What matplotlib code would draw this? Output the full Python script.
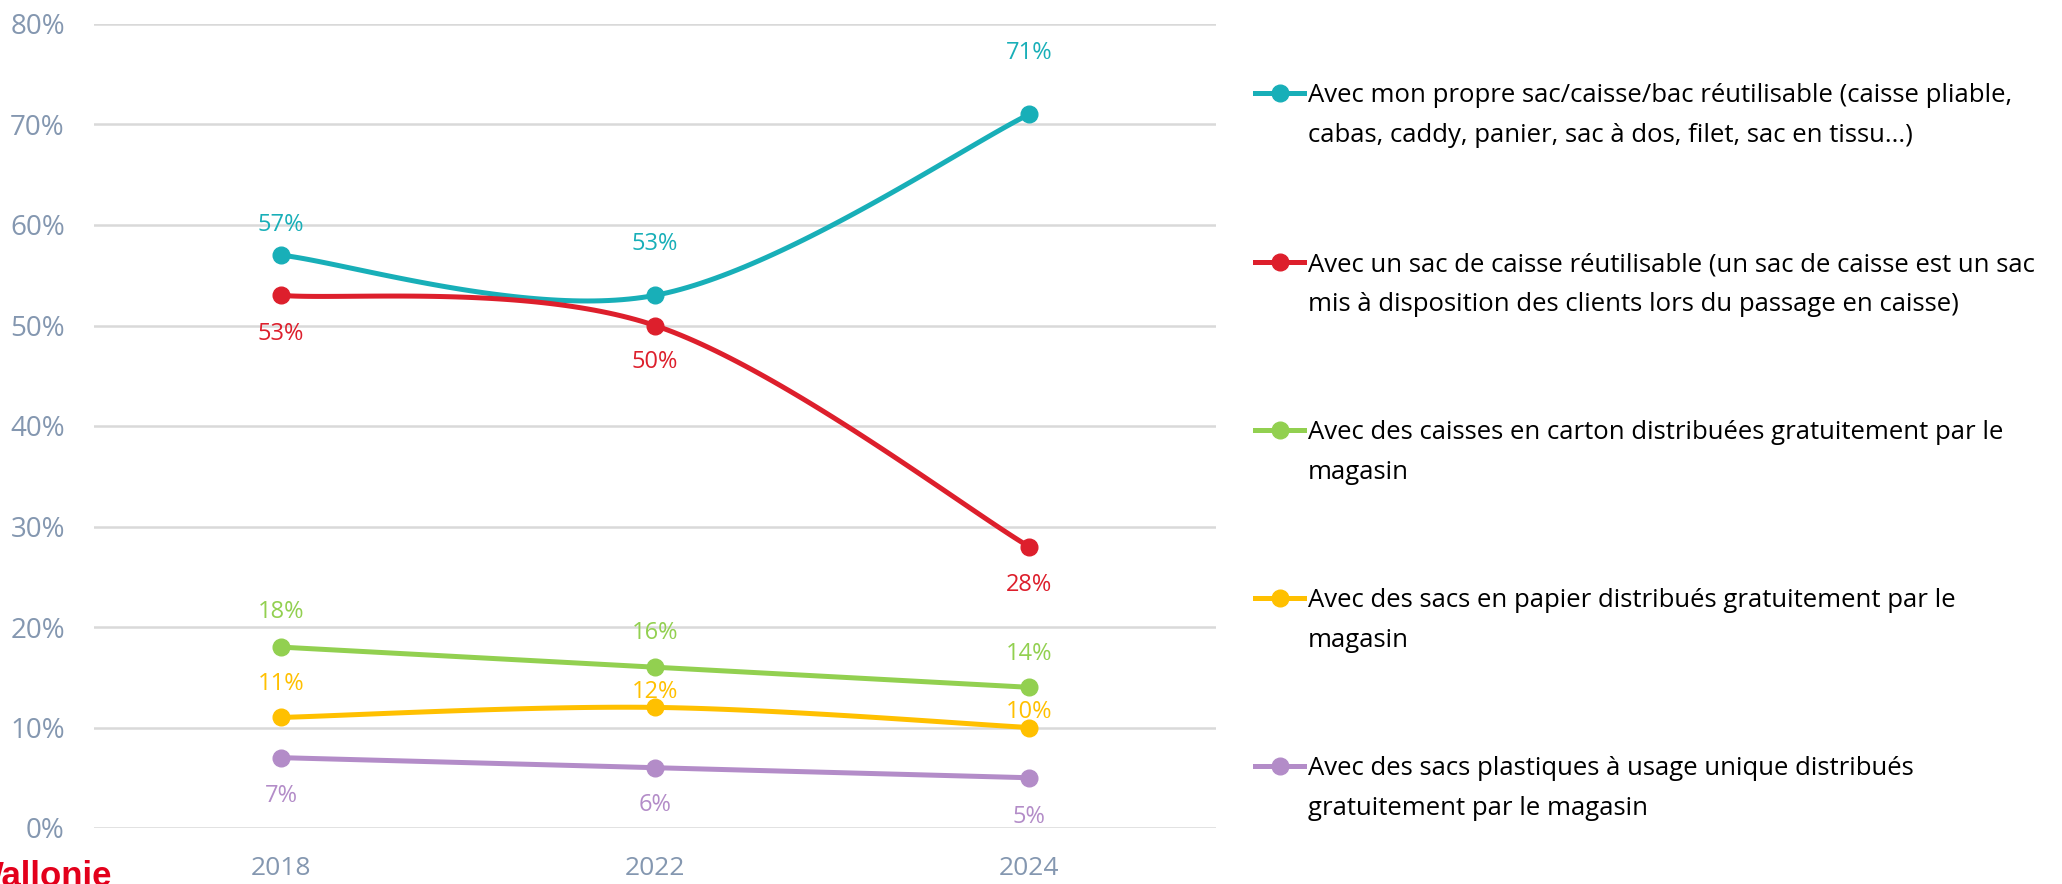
import numpy as np
import matplotlib
matplotlib.use("Agg")
import matplotlib.pyplot as plt
from matplotlib.lines import Line2D

plt.rcParams['font.family'] = ['Open Sans', 'DejaVu Sans']

years = ['2018', '2022', '2024']
series_names = [
    ["Avec mon propre sac/caisse/bac réutilisable (caisse pliable,",
     "cabas, caddy, panier, sac à dos, filet, sac en tissu...)"],
    ["Avec un sac de caisse réutilisable (un sac de caisse est un sac",
     "mis à disposition des clients lors du passage en caisse)"],
    ["Avec des caisses en carton distribuées gratuitement par le",
     "magasin"],
    ["Avec des sacs en papier distribués gratuitement par le",
     "magasin"],
    ["Avec des sacs plastiques à usage unique distribués",
     "gratuitement par le magasin"],
]
reusable_own = [57, 53, 71]
reusable_checkout = [53, 50, 28]
cardboard = [18, 16, 14]
paper = [11, 12, 10]
plastic = [7, 6, 5]
values = [reusable_own, reusable_checkout, cardboard, paper, plastic]
colors = ['#18AFB8', '#DD1F2C', '#92D050', '#FFC000', '#B38CC8']
# label offsets in pixels (positive = above the point)
label_dy = [[30, 51, 61], [-39, -37, -38], [35, 34, 33], [33, 15, 16], [-38, -37, -39]]

tick_col = '#8497B0'
grid_col = '#D9D9D9'
PX = 72 / 100  # points per pixel at dpi 100


def smooth(x, y, n=60):
    # catmull-rom style smoothing, like the office "smoothed line" option
    x = np.asarray(x, float)
    y = np.asarray(y, float)
    px = np.concatenate([[x[0]], x, [x[-1]]])
    py = np.concatenate([[y[0]], y, [y[-1]]])
    xs, ys = [], []
    for i in range(1, len(px) - 2):
        p0, p1, p2, p3 = (np.array([px[j], py[j]]) for j in range(i - 1, i + 3))
        c1 = p1 + (p2 - p0) / 6
        c2 = p2 - (p3 - p1) / 6
        t = np.linspace(0, 1, n)[:, None]
        b = (1 - t) ** 3 * p1 + 3 * (1 - t) ** 2 * t * c1 + 3 * (1 - t) * t ** 2 * c2 + t ** 3 * p2
        xs.extend(b[:, 0])
        ys.extend(b[:, 1])
    return np.array(xs), np.array(ys)


W, H = 2062, 884
fig = plt.figure(figsize=(W / 100, H / 100), dpi=100)
ax = fig.add_axes([94 / W, 56 / H, 1122 / W, 804 / H])

x = np.arange(len(years))
for vals, col, dys in zip(values, colors, label_dy):
    v = np.array(vals) / 100
    sx, sy = smooth(x, v)
    ax.plot(sx, sy, color=col, lw=3.6, solid_capstyle='round', zorder=3)
    ax.plot(x, v, 'o', color=col, ms=12, zorder=4)
    for xi, vi, dy in zip(x, v, dys):
        ax.annotate(f"{round(vi * 100)}%", (xi, vi), xytext=(0, dy * PX),
                    textcoords='offset points', ha='center', va='center',
                    color=col, fontsize=17, zorder=5)

ax.set_xlim(-0.5, 2.5)
ax.set_ylim(0, 0.8)
yt = np.arange(0, 0.81, 0.1)
ax.set_yticks(yt)
ax.set_yticklabels([f"{int(round(t * 100))}%" for t in yt])
ax.set_xticks(x)
ax.set_xticklabels(years)
ax.tick_params(axis='both', length=0, colors=tick_col)
ax.tick_params(axis='y', pad=21, labelsize=20)
ax.tick_params(axis='x', pad=20, labelsize=19)
ax.grid(axis='y', color=grid_col, lw=1.8)
ax.set_axisbelow(True)
for s in ax.spines.values():
    s.set_visible(False)

# legend drawn by hand so that spacing matches
leg_y = [93, 262, 430, 598, 766]
for lines, col, yy in zip(series_names, colors, leg_y):
    fy = 1 - yy / H
    fig.add_artist(Line2D([1255 / W, 1304 / W], [fy, fy], color=col, lw=3.6,
                          transform=fig.transFigure))
    fig.add_artist(Line2D([1280 / W], [fy], marker='o', color=col, ms=12,
                          transform=fig.transFigure))
    for k, line in enumerate(lines):
        fig.text(1308 / W, 1 - (yy + 9 + 40 * k) / H, line, ha='left', va='baseline',
                 fontsize=18.5, color='black')

# logo, cut off at the bottom and left edges
fig.text(112 / W, -2 / H, 'Wallonie', color='#E3001B', fontsize=25, fontweight='bold',
         family=['Liberation Sans Narrow', 'Liberation Sans'], ha='right', va='baseline')

fig.savefig('out.png', dpi=100)
